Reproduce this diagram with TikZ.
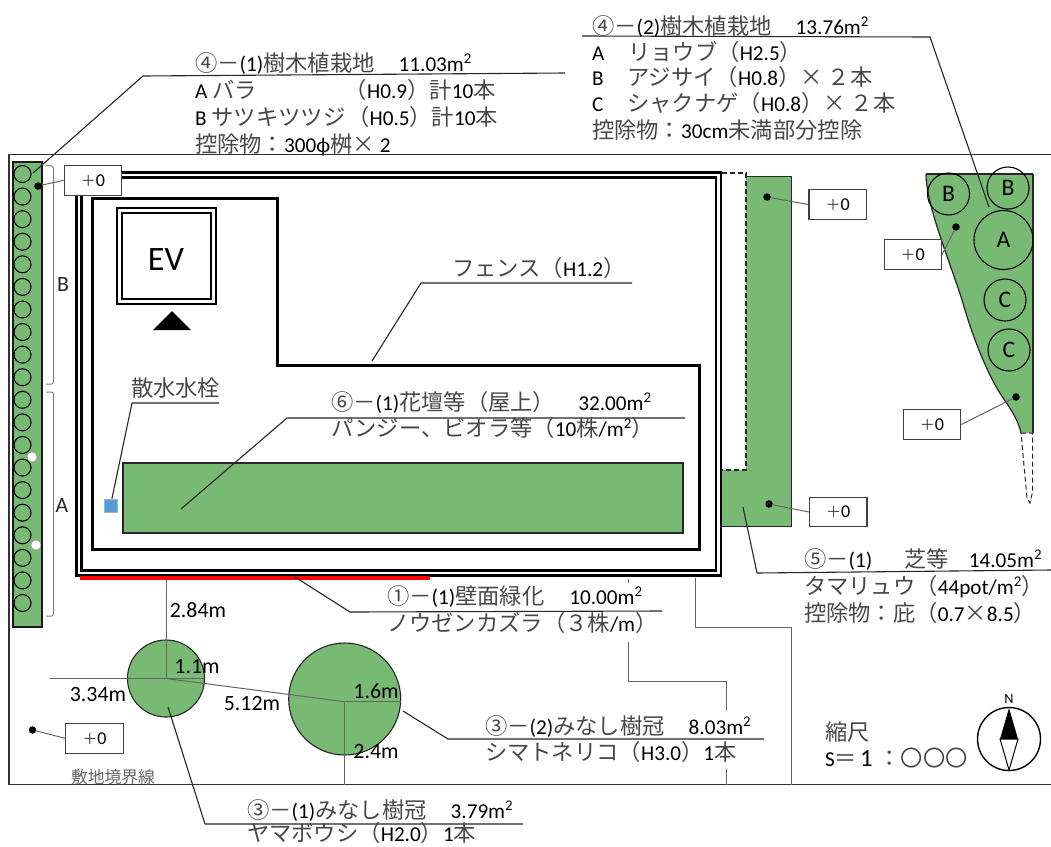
\documentclass[tikz,border=0pt]{standalone}
\usepackage{fontspec}
\setmainfont{Noto Sans CJK JP}
\newfontfamily\lat[Scale=0.95]{Carlito}
\newcommand\LL[1]{{\lat\color{black}#1}}
\newcommand\SQ{\LL{m\textsuperscript{2}}}
\definecolor{gr}{HTML}{78BA73}
\definecolor{blu}{HTML}{5B9BD5}
\tikzset{
  txt/.style={anchor=west,inner sep=0,outer sep=0,text=black!72,text height=20pt,text depth=4pt,font=\fontsize{22.3}{26}\selectfont},
  small/.style={anchor=center,inner sep=0,outer sep=0,text=black,font=\lat\fontsize{23}{26}\selectfont},
  plant/.style={fill=gr,draw=black!85,line width=1.4pt},
  shrub/.style={draw=black,line width=1.1pt},
  shrubl/.style={shrub,circle,inner sep=0,text=black,font=\lat\fontsize{25}{28}\selectfont},
  lead/.style={draw=black!85,line width=1.1pt},
  dimline/.style={draw=black!60,line width=1pt},
  lvl/.style={draw=black!75,fill=white,line width=1.1pt,minimum width=57.5pt,minimum height=29.5pt,inner sep=0,text=black!75,font=\fontsize{15}{20}\selectfont},
  blk/.style={circle,fill=black,inner sep=0,minimum size=7.5pt},
  wall/.style={draw=black,line width=2.2pt},
}
\newcommand\LV{＋{\fontsize{19}{20}\selectfont\LL{0}}}
\begin{document}
\begin{tikzpicture}[x=1pt,y=-1pt]
\path[fill=white] (0,0) rectangle (1051,846);
\useasboundingbox (0,0) rectangle (1051,846);
% site
\draw[draw=black!80,line width=1.1pt] (1051,154.5) -- (9,154.5) -- (9,784.5) -- (1051,784.5);
% left strip
\draw[fill=gr,draw=black!90,line width=2pt] (12.5,161.5) rectangle (42,627);
\foreach \i in {0,...,19} {\draw[shrub] (22.5,{174+22.58*\i}) circle (8.5);}
\fill[white,draw=black!40] (32,457) circle (5);
\fill[white,draw=black!40] (36,545) circle (5);
\draw[draw=black!50,line width=1pt,rounded corners=2pt] (46,165) -- (53.5,166) -- (53.5,384) -- (46,384);
\draw[draw=black!50,line width=1pt,rounded corners=2pt] (46,392) -- (53.5,392) -- (53.5,616) -- (46,616);
\node[small,text=black!85] (lbB) at (63,284) {B};
\node[small,text=black!85] (lbA) at (62,505) {A};
% building
\draw[wall] (76.5,172.5) rectangle (721,575.5);
\draw[wall] (81.5,177.5) rectangle (716,570.5);
% fence
\draw[draw=black,line width=3pt] (92,198.5) -- (277,198.5) -- (277,365) -- (699,365) -- (699,549) -- (92,549) -- cycle;
% EV
\draw[wall] (117,208) rectangle (216,304);
\draw[wall] (122,213) rectangle (211,299);
\node[inner sep=0,text=black,font=\lat\fontsize{36}{40}\selectfont] (ev) at (166,260) {EV};
\fill[black] (172,311) -- (191,330) -- (153,330) -- cycle;
% beds
\draw[plant] (123,463) rectangle (683,533);
\node[fill=blu,draw=blu!70!white,line width=.8pt,minimum size=13pt,inner sep=0] (tap) at (110.5,505.5) {};
% red
\fill[red] (80,575.5) rectangle (430,580);
% L-shape lawn
\draw[plant,draw=none] (746,177) -- (791,177) -- (791,526) -- (722,526) -- (722,470) -- (746,470) -- cycle;
\draw[draw=black!85,line width=1.4pt] (746,176.5) -- (791.5,176.5) -- (791.5,526.5) -- (722,526.5);
\draw[draw=black!85,line width=1.4pt,dash pattern=on 5pt off 3pt] (722,173) -- (746,173) -- (746,470) -- (722,470);
% right planting
\fill[gr] (926,174) -- (1032.5,174) -- (1032.5,433) -- (1021,433) .. controls (1017,415) and (1005,402) .. (998,390) .. controls (985,368) and (972,335) .. (962,300) .. controls (950,262) and (926,205) .. (926,174) -- cycle;
\draw[draw=black!85,line width=1.2pt] (926,174) -- (1032.5,174);
\draw[draw=black!85,line width=1.2pt] (1021,433) .. controls (1017,415) and (1005,402) .. (998,390) .. controls (985,368) and (972,335) .. (962,300) .. controls (950,262) and (926,205) .. (926,174);
\draw[draw=black!85,line width=2pt] (1032.5,174) -- (1032.5,433);
\draw[draw=black!85,line width=1pt,dash pattern=on 5pt off 3pt] (1021,433) -- (1032.5,433) -- (1032.5,492) -- (1030,503) -- (1027,498) -- (1021,433);
\node[shrubl,minimum size=42pt] (sb1) at (948.5,194) {B};
\node[shrubl,minimum size=42pt] (sb2) at (1008,188) {B};
\node[shrubl,minimum size=59pt] (sa) at (1003.5,240) {A};
\node[shrubl,minimum size=42pt] (sc1) at (1005,300) {C};
\node[shrubl,minimum size=42pt] (sc2) at (1009,350) {C};
% trees
\node[plant,circle,minimum size=77pt,inner sep=0,line width=1.1pt] (t1) at (166,678.5) {};
\node[plant,circle,minimum size=112pt,inner sep=0,line width=1.1pt] (t2) at (344.7,699) {};
% dimension lines
\coordinate (c1) at (166,678.5);
\coordinate (c2) at (344.7,701.7);
\draw[dimline] (166,580) -- (c1);
\draw[dimline] (50,678.5) -- (204,678.5);
\draw[dimline] (c1) -- (c2);
\draw[dimline] (c2) -- (400.7,701.7);
\draw[dimline] (c2) -- (344.7,785);
\draw[dimline] (628,578.5) -- (628,583);
\draw[dimline] (628,642) -- (628,681.5) -- (726,681.5) -- (726,710);
\draw[dimline] (726,769) -- (726,785);
\draw[dimline] (695.5,578) -- (695.5,627) -- (791,627) -- (791,785);
\node[small] (d1) at (198,610.5) {2.84m};
\node[small] (d2) at (197,667) {1.1m};
\node[small] (d3) at (98,694) {3.34m};
\node[small] (d4) at (252,703) {5.12m};
\node[small] (d5) at (376,691) {1.6m};
\node[small] (d6) at (376,751) {2.4m};
% level boxes
\node[lvl] (b1) at (93,180.3) {\LV};
\node[blk] (p1) at (38,186) {};
\draw[dimline] (p1) -- (b1.west);
\node[lvl] (b2) at (837.7,204.5) {\LV};
\node[blk] (p2) at (767,197) {};
\draw[dimline] (p2) -- (b2.west);
\node[lvl] (b3) at (912.8,254.3) {\LV};
\node[blk] (p3) at (956,227) {};
\draw[dimline] (p3) -- (b3.east);
\node[lvl] (b4) at (932,424.5) {\LV};
\node[blk] (p4) at (1016,397) {};
\draw[dimline] (p4) -- (b4.east);
\node[lvl] (b5) at (838.2,512) {\LV};
\node[blk] (p5) at (769,504) {};
\draw[dimline] (p5) -- (b5.west);
\node[lvl] (b6) at (94.5,738.3) {\LV};
\node[blk] (p6) at (32.5,730) {};
\draw[dimline] (p6) -- (b6.west);
\node[txt,text=black!60,font=\fontsize{16.8}{20}\selectfont] (site) at (71,775) {敷地境界線};
% leaders
\coordinate (a1) at (33,173); \coordinate (a2) at (143,76); \coordinate (a3) at (565,73);
\draw[lead] (a1) -- (a2) -- (a3);
\coordinate (e1) at (582,36); \coordinate (e2) at (930,37); \coordinate (e3) at (989,207);
\draw[lead] (e1) -- (e2) -- (e3);
\coordinate (f1) at (372,361); \coordinate (f2) at (421,283); \coordinate (f3) at (632,283);
\draw[lead] (f1) -- (f2) -- (f3);
\coordinate (g1) at (219,403); \coordinate (g2) at (132,403);
\draw[lead] (g1) -- (g2) -- (tap);
\coordinate (h1) at (181,509); \coordinate (h2) at (287,418); \coordinate (h3) at (685,418);
\draw[lead] (h1) -- (h2) -- (h3);
\coordinate (i1) at (743,507); \coordinate (i2) at (757,573); \coordinate (i3) at (1051,570);
\draw[lead] (i1) -- (i2) -- (i3);
\coordinate (j1) at (295,577); \coordinate (j2) at (350,612); \coordinate (j3) at (662,611);
\draw[lead] (j1) -- (j2) -- (j3);
\coordinate (k1) at (168,707); \coordinate (k2) at (205,824); \coordinate (k3) at (523,824);
\draw[lead] (k1) -- (k2) -- (k3);
\coordinate (l1) at (403,711); \coordinate (l2) at (448,739); \coordinate (l3) at (764,739);
\draw[lead] (l1) -- (l2) -- (l3);
% texts
\node[txt] (t41a) at (195,63) {④－\LL{(1)}樹木植栽地\hspace{24pt}\LL{11.03}\SQ};
\node[txt] (t41b) at (195,90) {\LL{A} バラ\hspace{88pt}（\LL{H0.9}）計\LL{10}本};
\node[txt] (t41c) at (195,117) {\LL{B} サツキツツジ\hspace{2pt}（\LL{H0.5}）計\LL{10}本};
\node[txt] (t41d) at (195,144) {控除物：\LL{300ϕ}桝× \LL{2}};
\node[txt] (t42a) at (592,26) {④－\LL{(2)}樹木植栽地\hspace{24pt}\LL{13.76}\SQ};
\node[txt] (t42b) at (592,52) {\LL{A}\hspace{24pt}リョウブ（\LL{H2.5}）};
\node[txt] (t42c) at (592,77) {\LL{B}\hspace{24pt}アジサイ（\LL{H0.8}）× ２本};
\node[txt] (t42d) at (592,103) {\LL{C}\hspace{24pt}シャクナゲ（\LL{H0.8}）× ２本};
\node[txt] (t42e) at (592,130) {控除物：\LL{30cm}未満部分控除};
\node[txt] (tf) at (452,268) {フェンス（\LL{H1.2}）};
\node[txt] (tw) at (131,388) {散水水栓};
\node[txt] (t6a) at (331,402) {⑥－\LL{(1)}花壇等（屋上）\hspace{23pt}\LL{32.00}\SQ};
\node[txt] (t6b) at (331,428) {パンジー、ビオラ等（\LL{10}株\LL{/}\SQ）};
\node[txt] (t5a) at (804,559) {⑤－\LL{(1)}\hspace{32pt}芝等\hspace{20pt}\LL{14.05}\SQ};
\node[txt] (t5b) at (804,586) {タマリュウ（\LL{44pot/}\SQ）};
\node[txt] (t5c) at (804,613) {控除物：庇（\LL{0.7}×\LL{8.5}）};
\node[txt] (t1a) at (387,596) {①－\LL{(1)}壁面緑化\hspace{25pt}\LL{10.00}\SQ};
\node[txt] (t1b) at (387,623) {ノウゼンカズラ（３株\LL{/m}）};
\node[txt] (t32a) at (485,726) {③－\LL{(2)}みなし樹冠\hspace{24pt}\LL{8.03}\SQ};
\node[txt] (t32b) at (485,752) {シマトネリコ（\LL{H3.0}）\LL{1}本};
\node[txt] (t31a) at (247,810) {③－\LL{(1)}みなし樹冠\hspace{24pt}\LL{3.79}\SQ};
\node[txt] (t31b) at (247,833.5) {ヤマボウシ（\LL{H2.0}）\LL{1}本};
\node[txt] (sc) at (825,732) {縮尺};
\node[txt] (sd) at (825,758) {\LL{S}＝\hspace{3pt}{\fontsize{26}{28}\selectfont\LL{1}}\hspace{6pt}：〇〇〇};
% compass
\draw[draw=black,line width=1.4pt] (1009,739) circle (31.5);
\fill[black] (1009,708) -- (1018,739) -- (1000,739) -- cycle;
\draw[draw=black,line width=1pt,fill=white] (1000,739) -- (1018,739) -- (1009,770) -- cycle;
\node[small,font=\lat\fontsize{15}{18}\selectfont] (north) at (1009,699) {N};
\end{tikzpicture}
\end{document}
